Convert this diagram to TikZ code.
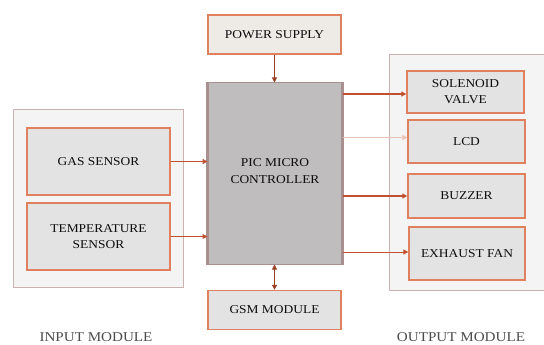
\documentclass[tikz,border=0pt]{standalone}
\usepackage{fontspec}
\setmainfont[FakeStretch=1.12]{Liberation Serif}
\usetikzlibrary{arrows.meta}
\definecolor{boxline}{HTML}{E0805E}
\definecolor{boxfill}{HTML}{E4E3E3}
\definecolor{pwrfill}{HTML}{EEEAE6}
\definecolor{modfill}{HTML}{F5F4F4}
\definecolor{modline}{HTML}{C8B2B2}
\definecolor{picfill}{HTML}{BFBDBD}
\definecolor{picline}{HTML}{A89090}
\definecolor{arr}{HTML}{C0502E}
\tikzset{
  blk/.style={draw=boxline, line width=1.4pt, fill=boxfill, align=center, inner sep=0pt,
    font=\fontsize{12}{16}\selectfont, text=black!95},
  module/.style={draw=modline, line width=1pt, fill=modfill, inner sep=0pt},
  conn/.style={draw=arr, line width=1pt, -{Triangle[width=5pt,length=5pt]}},
  lbl/.style={font=\fontsize{13.5}{16}\selectfont, text=black!70, inner sep=0pt, anchor=base}
}
\begin{document}
\begin{tikzpicture}[x=1pt,y=-1pt]
\useasboundingbox (0,0) rectangle (544,345);
% modules
\node[module, minimum width=170pt, minimum height=177pt] (inmod) at (98,198.5) {};
\node[module, minimum width=159pt, minimum height=235pt] (outmod) at (468.5,172.5) {};
% blocks
\node[blk, fill=pwrfill, minimum width=133pt, minimum height=39pt] (power) at (274.5,34.5) {POWER SUPPLY};
\node[draw=picline, line width=1pt, fill=picfill, minimum width=134pt, minimum height=181pt, inner sep=0pt] (pic) at (275,173.5) {};
\draw[picline, line width=2.5pt] (pic.north west) -- (pic.south west);
\draw[picline, line width=2.5pt] (pic.north east) -- (pic.south east);
\node[align=center, font=\fontsize{12}{17}\selectfont, text=black!95] (pictext) at (pic.center) [yshift=2.5pt] {PIC MICRO\\CONTROLLER};
\node[blk, minimum width=133pt, minimum height=39pt] (gsm) at (274.5,310) {GSM MODULE};
\node[blk, minimum width=143pt, minimum height=67pt] (gas) at (98.5,161.5) {GAS SENSOR};
\node[blk, minimum width=143pt, minimum height=67pt] (temp) at (98.5,236.5) {TEMPERATURE\\SENSOR};
\node[blk, minimum width=117pt, minimum height=42pt] (sol) at (465.5,92) {SOLENOID\\VALVE};
\node[blk, minimum width=117pt, minimum height=43pt] (lcd) at (466.5,141.5) {LCD};
\node[blk, minimum width=117pt, minimum height=44pt] (buzz) at (466.5,196) {BUZZER};
\node[blk, minimum width=116pt, minimum height=53pt] (fan) at (467,253.5) {EXHAUST FAN};
% labels
\node[lbl] (inlbl) at (96,341.5) {INPUT MODULE};
\node[lbl] (outlbl) at (461,341.5) {OUTPUT MODULE};
% connectors
\draw[conn, line width=1.5pt] (gas.east) -- (gas.east -| pic.west);
\draw[conn] (temp.east) -- (temp.east -| pic.west);
\draw[conn, line width=2pt] ([yshift=-2pt]sol.west -| pic.east) -- ([yshift=-2pt]sol.west);
\draw[conn, draw=arr!35, line width=0.5pt] ([yshift=4pt]lcd.west -| pic.east) -- ([yshift=4pt]lcd.west);
\draw[conn, line width=1.5pt] (buzz.west -| pic.east) -- (buzz.west);
\draw[conn] ([yshift=1.5pt]fan.west -| pic.east) -- ([yshift=1.5pt]fan.west);
\draw[conn, draw=arr!80!black] (power.south) -- (power.south |- pic.north);
\draw[conn, draw=arr!80!black, {Triangle[width=5pt,length=5pt]}-{Triangle[width=5pt,length=5pt]}] (gsm.north |- pic.south) -- (gsm.north);
\end{tikzpicture}
\end{document}
